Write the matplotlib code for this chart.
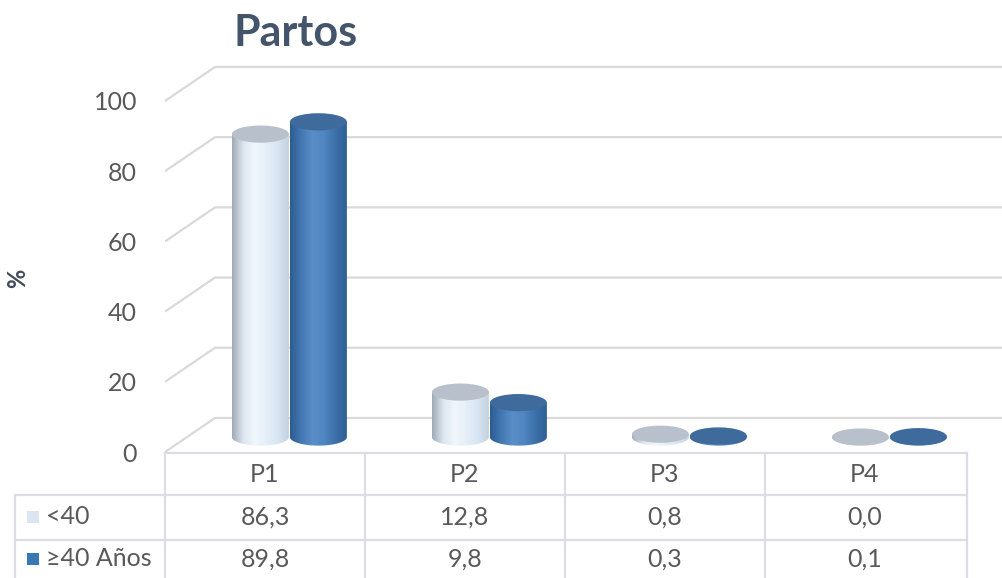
import numpy as np
import matplotlib
matplotlib.use("Agg")
import matplotlib.pyplot as plt
from matplotlib.colors import LinearSegmentedColormap
from matplotlib.patches import Polygon, Ellipse, Rectangle

plt.rcParams["font.family"] = ["Lato", "DejaVu Sans"]

categories = ["P1", "P2", "P3", "P4"]
series_names = ["<40", "\u226540 A\u00f1os"]
under_40 = [86.3, 12.8, 0.8, 0.0]
over_40 = [89.8, 9.8, 0.3, 0.1]
y_ticks = [0, 20, 40, 60, 80, 100]

TEXT = "#595959"
GRID = "#d9d9d9"
TABLE_LINE = "#dcdce6"

# perspective: depth offset of back wall (data units)
DX, DY = 0.25, 9.7
BASE = DY * 0.44
EH = 4.9
BW = 0.285

light_body = LinearSegmentedColormap.from_list(
    "lb", ["#9ea9b6", "#dde6ef", "#f0f6fc", "#e6eff8", "#d8e5f2", "#c3d1df"])
blue_body = LinearSegmentedColormap.from_list(
    "bb", ["#2c5b90", "#4479b4", "#5a8ec7", "#4f85c0", "#3d71aa", "#2f5f95"])
styles = [
    {"cmap": light_body, "top": "#b8c1cb", "key": "#dae5f1"},
    {"cmap": blue_body, "top": "#3e6b9c", "key": "#3a78b5"},
]


def cylinder(ax, xc, value, st):
    x0, x1 = xc - BW / 2, xc + BW / 2
    top = BASE + value
    t = np.linspace(np.pi, 2 * np.pi, 60)
    arc_x = xc + BW / 2 * np.cos(t)
    arc_y = BASE + EH / 2 * np.sin(t)
    pts = np.vstack([[x0, top], np.column_stack([arc_x, arc_y]), [x1, top]])
    clip = Polygon(pts, closed=True, transform=ax.transData)
    grad = np.linspace(0, 1, 256).reshape(1, -1)
    im = ax.imshow(grad, cmap=st["cmap"], extent=(x0, x1, BASE - EH / 2, top),
                   aspect="auto", zorder=3, interpolation="bicubic")
    im.set_clip_path(clip)
    ax.add_patch(Ellipse((xc, top), BW, EH, facecolor=st["top"],
                         edgecolor="none", zorder=4))


fig = plt.figure(figsize=(10.03, 5.78), dpi=100)

ax = fig.add_axes([165 / 1003, (578 - 452) / 578, 838 / 1003, 412 / 578])
xmax = -0.5 + 838 / 200
ymax = 412 / 3.51
for v in y_ticks:
    ax.plot([-0.5, -0.5 + DX, xmax], [v, v + DY, v + DY], color=GRID,
            lw=1.6, zorder=1, solid_capstyle="butt")

for i in range(len(categories)):
    cylinder(ax, i + DX / 2 - 0.148, under_40[i], styles[0])
    cylinder(ax, i + DX / 2 + 0.142, over_40[i], styles[1])

ax.set_xlim(-0.5, xmax)
ax.set_ylim(0, ymax)
ax.set_yticks(y_ticks)
ax.set_yticklabels([str(v) for v in y_ticks], fontsize=18, color=TEXT)
ax.tick_params(axis="y", length=0, pad=20)
ax.set_xticks([])
for s in ax.spines.values():
    s.set_visible(False)
ax.patch.set_alpha(0)

# data table below the plot
tab = fig.add_axes([0, 0, 1, 1], zorder=-1)
tab.set_xlim(0, 1003)
tab.set_ylim(578, 0)
tab.axis("off")
col_left = 165
col_w = 200
n = len(categories)
right = col_left + col_w * n + 2
kw = dict(color=TABLE_LINE, lw=1.6)
tab.plot([col_left, right], [453, 453], **kw)
tab.plot([15, right], [495, 495], **kw)
tab.plot([15, right], [540, 540], **kw)
tab.plot([15, 15], [495, 578], **kw)
for k in range(n + 1):
    xk = col_left + col_w * k + (2 if k == n else 0)
    tab.plot([xk, xk], [453, 578], **kw)

row_y = [474, 517, 559]
for k, cat in enumerate(categories):
    cx = col_left + col_w * (k + 0.5)
    tab.text(cx, row_y[0], cat, ha="center", va="center", fontsize=18, color=TEXT)
    tab.text(cx, row_y[1], f"{under_40[k]:.1f}".replace(".", ","),
             ha="center", va="center", fontsize=18, color=TEXT)
    tab.text(cx, row_y[2], f"{over_40[k]:.1f}".replace(".", ","),
             ha="center", va="center", fontsize=18, color=TEXT)

for r, (name, st) in enumerate(zip(series_names, styles)):
    yc = row_y[r + 1]
    tab.add_patch(Rectangle((27, yc - 6), 12, 12, facecolor=st["key"],
                            edgecolor="none"))
    tab.text(46, yc, name, ha="left", va="center", fontsize=18, color=TEXT)

fig.text(296 / 1003, 1 - 33 / 578, "Partos", ha="center", va="center",
         fontsize=31, fontweight="bold", color="#44546a")
fig.text(18 / 1003, 1 - 278 / 578, "%", ha="center", va="center",
         rotation=90, fontsize=17, fontweight="bold", color="#404a58")

fig.savefig("out.png", dpi=100)
